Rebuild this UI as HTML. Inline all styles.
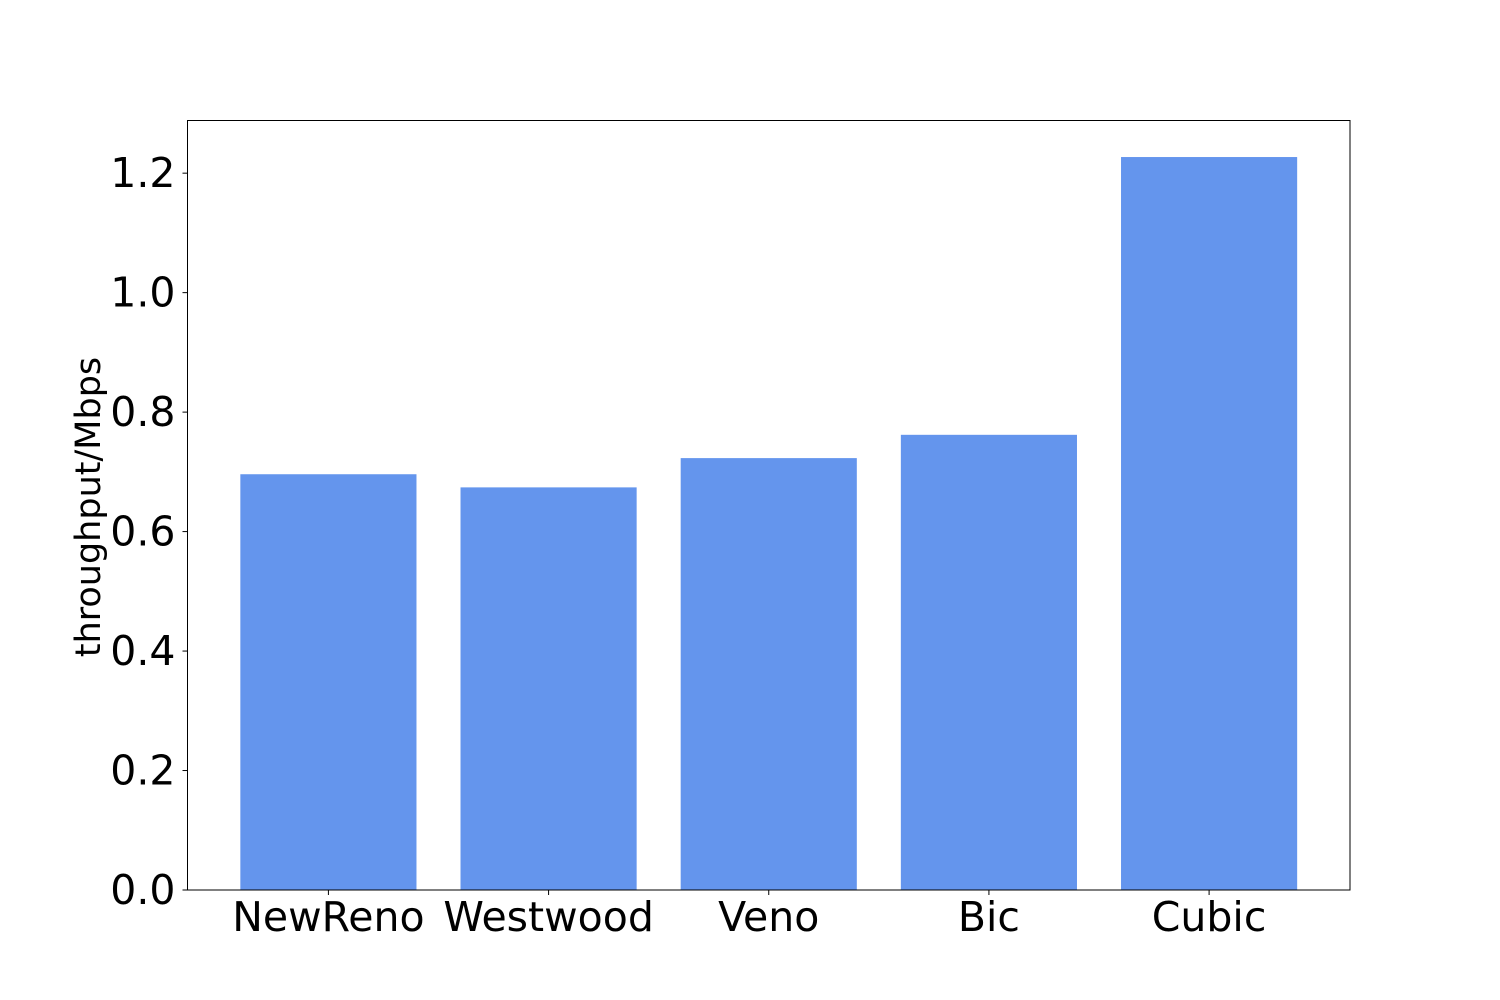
<!DOCTYPE html>
<html>
<head>
<meta charset="utf-8">
<style>
  html,body{margin:0;padding:0;background:#fff;}
  svg{display:block;font-family:"DejaVu Sans","Liberation Sans",sans-serif;}
</style>
</head>
<body>
<svg id="chart" width="1500" height="1000" viewBox="0 0 1500 1000" xmlns="http://www.w3.org/2000/svg">
  <rect x="0" y="0" width="1500" height="1000" fill="#ffffff"/>
  <g id="bars"></g>
  <g id="yticks"></g>
  <g id="xticks"></g>
  <rect x="187.5" y="120.5" width="1162.5" height="769.5" fill="none" stroke="#000" stroke-width="1"/>
  <text x="0" y="0" transform="translate(100,507) rotate(-90)" text-anchor="middle" font-size="35">throughput/Mbps</text>
</svg>
<script>
const categories = ["NewReno","Westwood","Veno","Bic","Cubic"];
const throughputValues = [0.696, 0.674, 0.723, 0.762, 1.227];
const yTickValues = [0, 0.2, 0.4, 0.6, 0.8, 1.0, 1.2];
const yTickLabels = ["0.0","0.2","0.4","0.6","0.8","1.0","1.2"];

const NS = "http://www.w3.org/2000/svg";
const plot = {left:187.5, right:1350, top:120, bottom:890};
const xMin = -0.64, xMax = categories.length - 0.36;
const yMin = 0, yMax = 1.289;
function xScale(v){ return plot.left + (v - xMin) / (xMax - xMin) * (plot.right - plot.left); }
function yScale(v){ return plot.bottom - (v - yMin) / (yMax - yMin) * (plot.bottom - plot.top); }

const barsG = document.getElementById('bars');
const xG = document.getElementById('xticks');
const yG = document.getElementById('yticks');
const barW = 0.8;

categories.forEach((c, i) => {
  const r = document.createElementNS(NS, 'rect');
  const x0 = xScale(i - barW/2), x1 = xScale(i + barW/2);
  const yt = yScale(throughputValues[i]);
  r.setAttribute('x', x0);
  r.setAttribute('y', yt);
  r.setAttribute('width', x1 - x0);
  r.setAttribute('height', yScale(0) - yt);
  r.setAttribute('fill', '#6495ED');
  
  
  barsG.appendChild(r);

  const t = document.createElementNS(NS, 'line');
  t.setAttribute('x1', xScale(i)); t.setAttribute('x2', xScale(i));
  t.setAttribute('y1', plot.bottom); t.setAttribute('y2', plot.bottom + 5);
  t.setAttribute('stroke', '#000');
  
  
  xG.appendChild(t);

  const l = document.createElementNS(NS, 'text');
  l.setAttribute('x', xScale(i));
  l.setAttribute('y', 931);
  l.setAttribute('text-anchor', 'middle');
  l.setAttribute('font-size', '41');
  l.textContent = c;
  
  
  xG.appendChild(l);
});

yTickValues.forEach((v, i) => {
  const y = yScale(v);
  const t = document.createElementNS(NS, 'line');
  t.setAttribute('x1', plot.left - 5); t.setAttribute('x2', plot.left);
  t.setAttribute('y1', y); t.setAttribute('y2', y);
  t.setAttribute('stroke', '#000');
  
  
  yG.appendChild(t);

  const l = document.createElementNS(NS, 'text');
  l.setAttribute('x', plot.left - 12);
  l.setAttribute('y', y + 14);
  l.setAttribute('text-anchor', 'end');
  l.setAttribute('font-size', '41');
  l.textContent = yTickLabels[i];
  
  
  yG.appendChild(l);
});
</script>
</body>
</html>
